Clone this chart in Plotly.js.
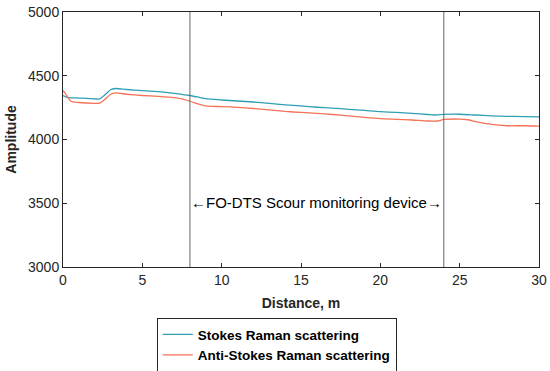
<!DOCTYPE html>
<html>
<head>
<meta charset="utf-8">
<script src="https://cdn.plot.ly/plotly-3.0.1.min.js"></script>
<style>html,body{margin:0;padding:0;background:#fff;}#chart{width:550px;height:371px;}</style>
</head>
<body>
<div id="chart"></div>
<script>
const stokesX = [0, 0.3, 1, 2, 2.3, 2.6, 3.0, 3.3, 4, 5, 6, 7, 8, 8.6, 9, 10, 11, 12, 13, 14, 15, 16, 17, 18, 19, 20, 21, 22, 23, 23.5, 24, 25, 26, 27, 28, 29, 30];
const stokesY = [4345, 4330, 4325, 4318, 4318, 4345, 4390, 4400, 4392, 4384, 4375, 4362, 4345, 4330, 4320, 4310, 4302, 4294, 4283, 4272, 4263, 4253, 4246, 4237, 4228, 4218, 4212, 4205, 4196, 4192, 4197, 4198, 4192, 4186, 4182, 4180, 4177];
const antiX = [0, 0.15, 0.5, 1, 2, 2.3, 2.6, 3.0, 3.3, 4, 5, 6, 7, 7.5, 8, 8.5, 9, 10, 11, 12, 13, 14, 15, 16, 17, 18, 19, 20, 21, 22, 23, 23.6, 24, 25, 25.5, 26, 26.5, 27, 28, 29, 30];
const antiY = [4385, 4360, 4300, 4290, 4284, 4285, 4310, 4355, 4365, 4355, 4345, 4338, 4328, 4318, 4300, 4280, 4263, 4258, 4252, 4243, 4232, 4220, 4212, 4205, 4196, 4185, 4173, 4163, 4158, 4153, 4145, 4145, 4157, 4160, 4155, 4140, 4128, 4118, 4108, 4108, 4105];
const seriesNames = ["Stokes Raman scattering", "Anti-Stokes Raman scattering"];
const xTicks = [0, 5, 10, 15, 20, 25, 30];
const yTicks = [3000, 3500, 4000, 4500, 5000];
const markerLinesX = [8, 24];
const annotationText = "\u2190FO-DTS Scour monitoring device\u2192";

const font = "Liberation Sans, Arial, sans-serif";
const traces = [
  {x: stokesX, y: stokesY, name: seriesNames[0], mode: "lines", line: {color: "#2f9fb5", width: 1.3, shape: "spline", smoothing: 0.6}},
  {x: antiX, y: antiY, name: seriesNames[1], mode: "lines", line: {color: "#f47258", width: 1.3, shape: "spline", smoothing: 0.6}}
];
const shapes = markerLinesX.map(v => ({type: "line", xref: "x", yref: "paper", x0: v, x1: v, y0: 0, y1: 1, line: {color: "#666666", width: 1}}));
const layout = {
  width: 550, height: 371,
  margin: {l: 63, r: 11, t: 12, b: 104, autoexpand: false},
  paper_bgcolor: "#fff", plot_bgcolor: "#fff",
  font: {family: font, size: 14, color: "#262626"},
  showlegend: true,
  legend: {x: 0.197, xanchor: "left", y: -0.2, yanchor: "top", bgcolor: "#fff", bordercolor: "#262626", borderwidth: 1,
    font: {family: font, size: 13.5, color: "#000", weight: "bold"}, tracegroupgap: 0},
  xaxis: {range: [0, 30], tickvals: xTicks, ticks: "inside", ticklen: 4, tickcolor: "#262626", showgrid: false, zeroline: false,
    showline: true, linecolor: "#262626", linewidth: 1, mirror: "ticks", automargin: false,
    tickfont: {family: font, size: 14, color: "#262626"},
    title: {text: "Distance, m", font: {family: font, size: 14, color: "#262626", weight: "bold"}, standoff: 11}},
  yaxis: {range: [3000, 5000], tickvals: yTicks, ticks: "inside", ticklen: 4, tickcolor: "#262626", showgrid: false, zeroline: false,
    showline: true, linecolor: "#262626", linewidth: 1, mirror: "ticks", automargin: false,
    tickfont: {family: font, size: 14, color: "#262626"},
    title: {text: "Amplitude", font: {family: font, size: 14, color: "#262626", weight: "bold"}, standoff: 8}},
  shapes: shapes,
  annotations: [{x: 16, y: 3505, xref: "x", yref: "y", text: annotationText, showarrow: false,
    font: {family: font, size: 15, color: "#000"}}]
};
Plotly.newPlot("chart", traces, layout, {displayModeBar: false, staticPlot: true});
</script>
</body>
</html>
